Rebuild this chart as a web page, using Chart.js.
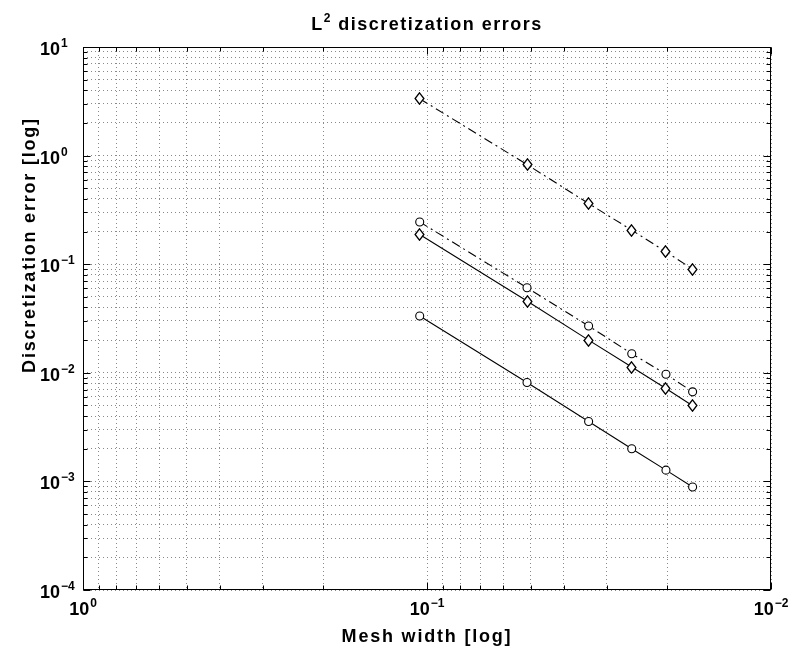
<!DOCTYPE html>
<html>
<head>
<meta charset="utf-8">
<script src="https://cdn.jsdelivr.net/npm/chart.js@4"></script>
<style>
  html, body { margin: 0; padding: 0; background: #fff; }
</style>
</head>
<body>
<canvas id="errChart" width="795" height="649"></canvas>
<script>
// mesh widths (x) and L2 errors for the four runs
const meshWidth = [0.105, 0.0512, 0.0339, 0.0254, 0.0202, 0.0169];
const errDiamondDash = [3.34, 0.827, 0.362, 0.206, 0.130, 0.0901];
const errCircleDash = [0.245, 0.0607, 0.0270, 0.0150, 0.00971, 0.00668];
const errDiamondSolid = [0.188, 0.0458, 0.0200, 0.0113, 0.00716, 0.00497];
const errCircleSolid = [0.0333, 0.00813, 0.00356, 0.00200, 0.00127, 0.000889];

// decade tick labels (exponents of 10)
const xDecades = [0, -1, -2];
const yDecades = [1, 0, -1, -2, -3, -4];

const titleMain = 'L';
const titleSup = '2';
const titleRest = ' discretization errors';
const xTitle = 'Mesh width [log]';
const yTitle = 'Discretization error [log]';

const FONT = '"Liberation Sans", Arial, Helvetica, sans-serif';

// all 1..9 x 10^n values between two decades
function logTicks(lo, hi) {
    const out = [];
    for (let e = lo; e < hi; e++) {
        for (let m = 1; m < 10; m++) out.push(+(m * Math.pow(10, e)).toPrecision(3));
    }
    out.push(Math.pow(10, hi));
    return out;
}
function isDecade(v) {
    const l = Math.log10(v);
    return Math.abs(l - Math.round(l)) < 1e-9;
}
function expText(e) {
    return e < 0 ? '\u2212' + (-e) : String(e);
}

// unfilled, slightly tall diamond marker
function makeDiamond() {
    const c = document.createElement('canvas');
    c.width = 11; c.height = 13;
    const g = c.getContext('2d');
    g.beginPath();
    g.moveTo(5.5, 0.8);
    g.lineTo(9.9, 6.5);
    g.lineTo(5.5, 12.2);
    g.lineTo(1.1, 6.5);
    g.closePath();
    g.fillStyle = '#fff';
    g.fill();
    g.strokeStyle = '#000';
    g.lineWidth = 1.3;
    g.stroke();
    return c;
}
const diamond = makeDiamond();

function series(ys, style, dashed) {
    return {
        data: meshWidth.map((x, i) => ({x: x, y: ys[i]})),
        borderColor: '#000',
        borderWidth: 1.1,
        borderDash: dashed ? [9, 4, 2, 4] : [],
        pointStyle: style === 'diamond' ? diamond : 'circle',
        pointRadius: 4,
        pointBorderWidth: 1.1,
        pointBackgroundColor: '#fff',
        pointBorderColor: '#000',
        fill: false,
        tension: 0
    };
}

function drawPow(ctx, e, x, y, align) {
    // "10" at 18px, exponent raised at 12px
    ctx.font = 'bold 18px ' + FONT;
    const wBase = ctx.measureText('10').width;
    ctx.font = 'bold 12px ' + FONT;
    const wExp = ctx.measureText(expText(e)).width;
    let x0;
    if (align === 'center') x0 = x - (wBase + wExp + 1) / 2;
    else x0 = x - wBase; // x is where "10" ends
    ctx.textAlign = 'left';
    ctx.textBaseline = 'alphabetic';
    ctx.font = 'bold 18px ' + FONT;
    ctx.fillText('10', x0, y);
    ctx.font = 'bold 12px ' + FONT;
    ctx.fillText(expText(e), x0 + wBase + 1, y - 8);
}

const crispMarkers = {
    id: 'crispMarkers',
    beforeDatasetsDraw(chart) { chart.ctx.imageSmoothingEnabled = false; },
    afterDatasetsDraw(chart) { chart.ctx.imageSmoothingEnabled = true; }
};

const decor = {
    id: 'decor',
    afterDraw(chart) {
        const {ctx, chartArea: a, scales} = chart;
        const sx = scales.x, sy = scales.y;
        const L = Math.round(a.left) + 0.5, R = Math.round(a.right) - 0.5;
        const T = Math.round(a.top) + 0.5, B = Math.round(a.bottom) - 0.5;
        ctx.save();
        ctx.strokeStyle = '#000';
        ctx.lineWidth = 1;
        ctx.setLineDash([]);
        ctx.strokeRect(L, T, R - L, B - T);

        // inward tick marks on all four sides
        ctx.beginPath();
        logTicks(-4, 1).forEach(v => {
            const p = Math.round(sy.getPixelForValue(v)) + 0.5;
            const len = isDecade(v) ? 7 : 4;
            ctx.moveTo(L, p); ctx.lineTo(L + len, p);
            ctx.moveTo(R, p); ctx.lineTo(R - len, p);
        });
        logTicks(-2, 0).forEach(v => {
            const p = Math.round(sx.getPixelForValue(v)) + 0.5;
            const len = isDecade(v) ? 7 : 4;
            ctx.moveTo(p, B); ctx.lineTo(p, B - len);
            ctx.moveTo(p, T); ctx.lineTo(p, T + len);
        });
        ctx.stroke();

        ctx.fillStyle = '#000';
        yDecades.forEach(e => {
            const p = sy.getPixelForValue(Math.pow(10, e));
            drawPow(ctx, e, 60, p + 8, 'right');
        });
        xDecades.forEach(e => {
            const p = sx.getPixelForValue(Math.pow(10, e));
            drawPow(ctx, e, p, 615, 'center');
        });

        // title with superscript
        const cx = (a.left + a.right) / 2;
        ctx.letterSpacing = '1.5px';
        ctx.font = 'bold 18px ' + FONT;
        const wL = ctx.measureText(titleMain).width;
        const wR = ctx.measureText(titleRest).width;
        ctx.font = 'bold 12px ' + FONT;
        const wS = ctx.measureText(titleSup).width;
        let tx = cx - (wL + wS + wR) / 2;
        ctx.textAlign = 'left';
        ctx.font = 'bold 18px ' + FONT;
        ctx.fillText(titleMain, tx, 30);
        ctx.font = 'bold 12px ' + FONT;
        ctx.fillText(titleSup, tx + wL, 22);
        ctx.font = 'bold 18px ' + FONT;
        ctx.fillText(titleRest, tx + wL + wS, 30);

        // axis titles
        ctx.letterSpacing = '1.8px';
        ctx.textAlign = 'center';
        ctx.fillText(xTitle, cx, 642);
        ctx.translate(35, 245);
        ctx.rotate(-Math.PI / 2);
        ctx.fillText(yTitle, 0, 0);
        ctx.restore();
    }
};

const gridOpts = {color: '#8a8a8a', lineWidth: 1, drawTicks: false};

new Chart(document.getElementById('errChart'), {
    type: 'line',
    data: {
        datasets: [
            series(errDiamondDash, 'diamond', true),
            series(errCircleDash, 'circle', true),
            series(errDiamondSolid, 'diamond', false),
            series(errCircleSolid, 'circle', false)
        ]
    },
    options: {
        responsive: false,
        animation: false,
        devicePixelRatio: 1,
        layout: {padding: {top: 47, right: 24, left: 0, bottom: 0}},
        plugins: {legend: {display: false}, tooltip: {enabled: false}},
        scales: {
            x: {
                type: 'logarithmic',
                reverse: true,
                min: 0.01,
                max: 1,
                afterBuildTicks: s => { s.ticks = logTicks(-2, 0).map(v => ({value: v})); },
                afterFit: s => { s.height = 59; },
                ticks: {display: false},
                grid: gridOpts,
                border: {display: false, dash: [1, 3]}
            },
            y: {
                type: 'logarithmic',
                min: 0.0001,
                max: 10,
                afterBuildTicks: s => { s.ticks = logTicks(-4, 1).map(v => ({value: v})); },
                afterFit: s => { s.width = 83; },
                ticks: {display: false},
                grid: gridOpts,
                border: {display: false, dash: [1, 3]}
            }
        }
    },
    plugins: [crispMarkers, decor]
});
</script>
</body>
</html>
